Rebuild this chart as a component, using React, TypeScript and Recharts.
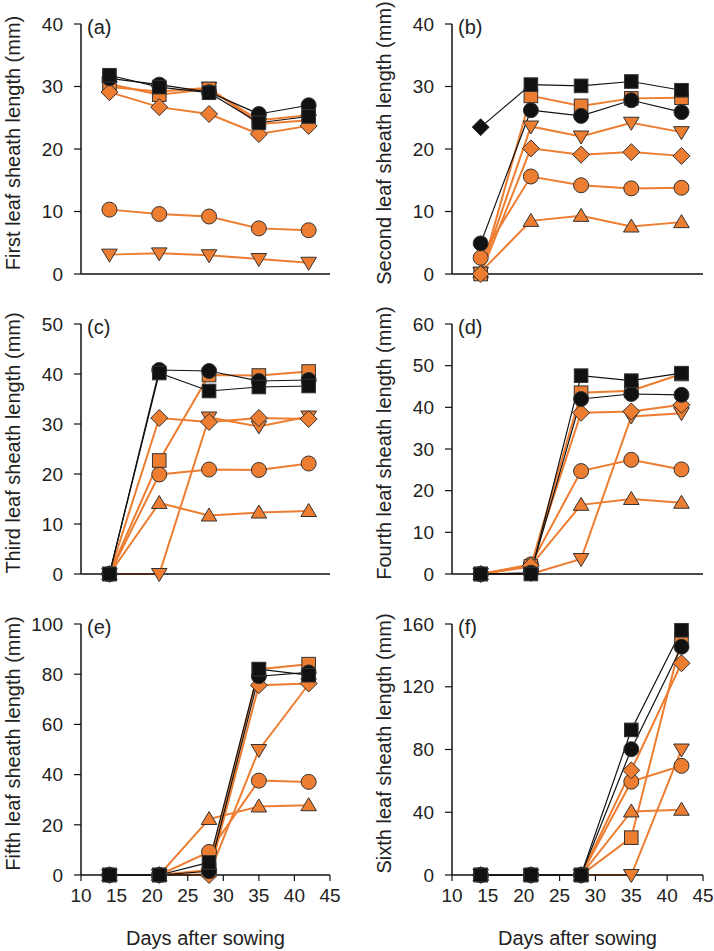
import React from "react";
import { LineChart, Line, XAxis, YAxis } from "recharts";

const DAYS = [14, 21, 28, 35, 42];
const X_TICKS = [10, 15, 20, 25, 30, 35, 40, 45];

// Panel (a) First leaf sheath
const firstLeaf = {
  triUp: [3.1, 3.3, 3.0, 2.4, 1.8],
  triDown: [29.9, 29.2, 29.8, 24.0, 24.6],
  oCircle: [10.3, 9.6, 9.2, 7.3, 7.0],
  oDiamond: [29.1, 26.7, 25.6, 22.4, 23.7],
  oSquare: [30.4, 28.7, 29.6, 24.6, 25.4],
  kCircle: [31.3, 30.3, 29.1, 25.6, 27.0],
  kSquare: [31.8, 29.9, 29.0, 24.2, 25.2],
};
// Panel (b) Second leaf sheath
const secondLeaf = {
  triUp: [0.3, 8.5, 9.3, 7.6, 8.3],
  triDown: [0.2, 23.6, 22.0, 24.2, 22.7],
  oCircle: [2.6, 15.6, 14.2, 13.7, 13.8],
  oDiamond: [0, 20.1, 19.1, 19.5, 18.9],
  oSquare: [0, 28.5, 26.9, 28.1, 28.2],
  kCircle: [4.9, 26.2, 25.3, 27.8, 25.9],
  kSquare: [23.5, 30.3, 30.1, 30.8, 29.4],
};
// Panel (c) Third leaf sheath
const thirdLeaf = {
  triUp: [0, 14.2, 11.7, 12.3, 12.6],
  triDown: [0, 0, 31.3, 29.5, 31.5],
  oCircle: [0, 19.9, 20.9, 20.8, 22.1],
  oDiamond: [0, 31.2, 30.4, 31.2, 31.0],
  oSquare: [0, 22.7, 39.8, 39.7, 40.5],
  kCircle: [0, 40.8, 40.6, 38.6, 38.8],
  kSquare: [0, 40.2, 36.6, 37.4, 37.6],
};
// Panel (d) Fourth leaf sheath
const fourthLeaf = {
  triUp: [0, 2.0, 16.6, 18.0, 17.1],
  triDown: [0, 0, 3.6, 37.8, 38.6],
  oCircle: [0, 2.3, 24.7, 27.4, 25.1],
  oDiamond: [0, 2.0, 38.7, 39.0, 40.6],
  oSquare: [0, 1.8, 43.5, 44.0, 48.0],
  kCircle: [0, 0.3, 42.0, 43.2, 43.0],
  kSquare: [0, 0, 47.6, 46.4, 48.2],
};
// Panel (e) Fifth leaf sheath
const fifthLeaf = {
  triUp: [0, 0, 22.3, 27.3, 27.8],
  triDown: [0, 0, 0.3, 49.8, 76.0],
  oCircle: [0, 0, 9.2, 37.6, 37.1],
  oDiamond: [0, 0, 0, 75.6, 76.3],
  oSquare: [0, 0, 2.0, 82.0, 84.0],
  kCircle: [0, 0, 1.5, 79.2, 80.7],
  kSquare: [0, 0, 5.0, 82.0, 79.6],
};
// Panel (f) Sixth leaf sheath
const sixthLeaf = {
  triUp: [0, 0, 0, 40.5, 41.6],
  triDown: [0, 0, 0, 0, 80.0],
  oCircle: [0, 0, 0, 59.5, 69.6],
  oDiamond: [0, 0, 0, 66.7, 135.0],
  oSquare: [0, 0, 0, 23.8, 150.5],
  kCircle: [0, 0, 0, 80.2, 145.5],
  kSquare: [0, 0, 0, 92.5, 156.0],
};

const ORANGE = "#ED7D31";
const BLACK = "#111111";
const FONT = "'Liberation Sans', Arial, sans-serif";

type Shape = "square" | "circle" | "diamond" | "up" | "down";

const SERIES: { key: string; color: string; shape: Shape; width: number }[] = [
  { key: "triUp", color: ORANGE, shape: "up", width: 2 },
  { key: "triDown", color: ORANGE, shape: "down", width: 2 },
  { key: "oCircle", color: ORANGE, shape: "circle", width: 2 },
  { key: "oSquare", color: ORANGE, shape: "square", width: 2 },
  { key: "oDiamond", color: ORANGE, shape: "diamond", width: 2 },
  { key: "kCircle", color: BLACK, shape: "circle", width: 1.2 },
  { key: "kSquare", color: BLACK, shape: "square", width: 1.2 },
];

const PANELS = [
  { letter: "(a)", title: "First leaf sheath length (mm)", data: firstLeaf, yMax: 40, yTicks: [0, 10, 20, 30, 40], col: 0, row: 0, overrides: { triUp: { all: "down" } } },
  { letter: "(b)", title: "Second leaf sheath length (mm)", data: secondLeaf, yMax: 40, yTicks: [0, 10, 20, 30, 40], col: 1, row: 0, overrides: { kSquare: { 0: "diamond" } } },
  { letter: "(c)", title: "Third leaf sheath length (mm)", data: thirdLeaf, yMax: 50, yTicks: [0, 10, 20, 30, 40, 50], col: 0, row: 1, overrides: {} },
  { letter: "(d)", title: "Fourth leaf sheath length (mm)", data: fourthLeaf, yMax: 60, yTicks: [0, 10, 20, 30, 40, 50, 60], col: 1, row: 1, overrides: {} },
  { letter: "(e)", title: "Fifth leaf sheath length (mm)", data: fifthLeaf, yMax: 100, yTicks: [0, 20, 40, 60, 80, 100], col: 0, row: 2, overrides: {} },
  { letter: "(f)", title: "Sixth leaf sheath length (mm)", data: sixthLeaf, yMax: 160, yTicks: [0, 40, 80, 120, 160], col: 1, row: 2, overrides: {} },
];

function drawMarker(shape: Shape, cx: number, cy: number, fill: string, key: string) {
  const stroke = "#333";
  const sw = 1;
  if (shape === "circle") return <circle key={key} cx={cx} cy={cy} r={7.5} fill={fill} stroke={stroke} strokeWidth={sw} />;
  if (shape === "square") return <rect key={key} x={cx - 6.8} y={cy - 6.8} width={13.6} height={13.6} fill={fill} stroke={stroke} strokeWidth={sw} />;
  if (shape === "diamond")
    return <polygon key={key} points={`${cx},${cy - 8.5} ${cx + 8.5},${cy} ${cx},${cy + 8.5} ${cx - 8.5},${cy}`} fill={fill} stroke={stroke} strokeWidth={sw} />;
  if (shape === "up")
    return <polygon key={key} points={`${cx},${cy - 7.5} ${cx + 7.8},${cy + 5.5} ${cx - 7.8},${cy + 5.5}`} fill={fill} stroke={stroke} strokeWidth={sw} />;
  return <polygon key={key} points={`${cx},${cy + 7.5} ${cx + 7.8},${cy - 5.5} ${cx - 7.8},${cy - 5.5}`} fill={fill} stroke={stroke} strokeWidth={sw} />;
}

function makeDot(shape: Shape, fill: string, ov: any, sKey: string) {
  return (props: any) => {
    const { cx, cy, index } = props;
    if (cx == null || cy == null) return <g key={`${sKey}-${index}`} />;
    let sh: Shape = shape;
    if (ov) {
      if (ov.all) sh = ov.all;
      if (ov[index]) sh = ov[index];
    }
    return drawMarker(sh, cx, cy, fill, `${sKey}-${index}`);
  };
}

const AxisTitle = (props: any) => {
  const { viewBox, text, letter } = props;
  if (!viewBox) return null;
  const axisX = viewBox.x + viewBox.width;
  const cx = axisX - 68;
  const cy = viewBox.y + viewBox.height / 2 - 6;
  return (
    <g>
      <text
        x={cx}
        y={cy}
        transform={`rotate(-90 ${cx} ${cy})`}
        textAnchor="middle"
        dominantBaseline="central"
        fontFamily={FONT}
        fontSize={20}
        fill="#222"
      >
        {text}
      </text>
      <text x={axisX + 6} y={viewBox.y + 3} dominantBaseline="central" fontFamily={FONT} fontSize={20} fill="#222">
        {letter}
      </text>
    </g>
  );
};

const XTitle = (props: any) => {
  const { viewBox } = props;
  if (!viewBox) return null;
  const cx = viewBox.x + viewBox.width / 2;
  return (
    <text x={cx} y={viewBox.y + 63} textAnchor="middle" dominantBaseline="central" fontFamily={FONT} fontSize={20} fill="#222">
      Days after sowing
    </text>
  );
};

function Panel({ p }: { p: any }) {
  const bottom = p.row === 2;
  const height = bottom ? 351 : 300;
  const yWidth = p.col === 0 ? 81 : 95;
  const mRight = p.col === 0 ? 27 : 11;
  const rows = DAYS.map((d, i) => {
    const r: any = { day: d };
    SERIES.forEach((s) => {
      r[s.key] = p.data[s.key][i];
    });
    return r;
  });
  const tickStyle = { fontFamily: FONT, fontSize: 19, fill: "#222" };
  return (
    <div style={{ position: "absolute", left: p.col * 357, top: p.row * 300 }}>
      <LineChart width={357} height={height} data={rows} margin={{ top: 24, right: mRight, bottom: 0, left: 0 }}>
        <XAxis
          dataKey="day"
          type="number"
          domain={[10, 45]}
          ticks={X_TICKS}
          interval={0}
          height={bottom ? 76 : 26}
          tickSize={6}
          tickMargin={8}
          axisLine={{ stroke: "#111", strokeWidth: 1.5 }}
          tickLine={{ stroke: "#111", strokeWidth: 1.2 }}
          tick={bottom ? tickStyle : false}
          label={bottom ? <XTitle /> : undefined}
        />
        <YAxis
          type="number"
          domain={[0, p.yMax]}
          ticks={p.yTicks}
          interval={0}
          width={yWidth}
          tickSize={7}
          tickMargin={11}
          axisLine={{ stroke: "#111", strokeWidth: 1.5 }}
          tickLine={{ stroke: "#111", strokeWidth: 1.2 }}
          tick={tickStyle}
          label={<AxisTitle text={p.title} letter={p.letter} />}
        />
        {SERIES.map((s) => (
          <Line
            key={s.key}
            dataKey={s.key}
            stroke={s.color}
            strokeWidth={s.width}
            isAnimationActive={false}
            dot={makeDot(s.shape, s.color, (p.overrides as any)[s.key], s.key)}
            activeDot={false}
          />
        ))}
      </LineChart>
    </div>
  );
}

export default function App() {
  return (
    <div style={{ position: "absolute", left: 0, top: 0, width: 714, height: 951, background: "#fff" }}>
      {PANELS.map((p) => (
        <Panel key={p.letter} p={p} />
      ))}
    </div>
  );
}
